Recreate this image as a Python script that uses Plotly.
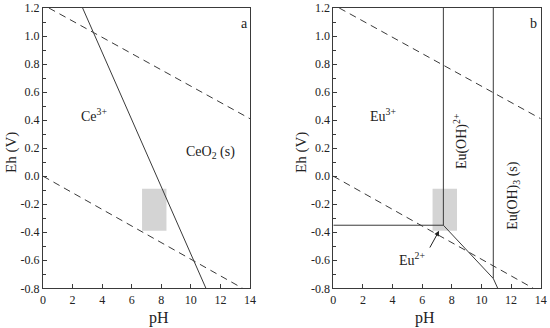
import plotly.graph_objects as go

# ---- data ----
ph_water_up = [0.4, 14.0]
eh_water_up = [1.2, 0.41]
ph_water_lo = [0.0, 13.5]
eh_water_lo = [0.0, -0.8]

ce_ph = [2.68, 11.02]
ce_eh = [1.2, -0.8]

eu_h_ph = [0.0, 7.43]
eu_h_eh = [-0.35, -0.35]
eu_v1_ph = [7.43, 7.43]
eu_v1_eh = [-0.35, 1.2]
eu_d_ph = [7.43, 10.8, 11.1]
eu_d_eh = [-0.35, -0.73, -0.8]
eu_v2_ph = [10.8, 10.8]
eu_v2_eh = [-0.73, 1.2]

rect_ph = [6.7, 8.35]
rect_eh = [-0.39, -0.09]

x_ticks = [0, 2, 4, 6, 8, 10, 12, 14]
y_ticks = [-0.8, -0.6, -0.4, -0.2, 0.0, 0.2, 0.4, 0.6, 0.8, 1.0, 1.2]
y_ticktext = ["%.1f" % v for v in y_ticks]

LINE = "#3a3a3a"
FONT = "Liberation Serif, Times New Roman, Times, serif"
W, H = 550, 328

fig = go.Figure()

for xa, ya in (("x", "y"), ("x2", "y2")):
    fig.add_shape(type="rect", xref=xa, yref=ya, x0=rect_ph[0], x1=rect_ph[1],
                  y0=rect_eh[0], y1=rect_eh[1], fillcolor="#d4d4d4",
                  line=dict(width=0), layer="below")
    fig.add_trace(go.Scatter(x=ph_water_up, y=eh_water_up, mode="lines", xaxis=xa, yaxis=ya,
                             line=dict(color=LINE, width=1, dash="7px,5px"), showlegend=False))
    fig.add_trace(go.Scatter(x=ph_water_lo, y=eh_water_lo, mode="lines", xaxis=xa, yaxis=ya,
                             line=dict(color=LINE, width=1, dash="7px,5px"), showlegend=False))

fig.add_trace(go.Scatter(x=ce_ph, y=ce_eh, mode="lines", xaxis="x", yaxis="y",
                         line=dict(color=LINE, width=1), showlegend=False))
for px, py in ((eu_h_ph, eu_h_eh), (eu_v1_ph, eu_v1_eh), (eu_d_ph, eu_d_eh), (eu_v2_ph, eu_v2_eh)):
    fig.add_trace(go.Scatter(x=px, y=py, mode="lines", xaxis="x2", yaxis="y2",
                             line=dict(color=LINE, width=1), showlegend=False))

axis_common = dict(range=[0, 14], tickvals=x_ticks, ticks="inside", ticklen=4,
                   tickcolor=LINE, showline=True, linecolor=LINE, linewidth=1, mirror=True,
                   showgrid=False, zeroline=False, automargin=False,
                   tickfont=dict(family=FONT, size=12, color="#222"))
yaxis_common = dict(range=[-0.8, 1.2], tickvals=y_ticks, ticktext=y_ticktext, ticks="inside",
                    ticklen=4, tickcolor=LINE, showline=True, linecolor=LINE, linewidth=1,
                    mirror=True, showgrid=False, zeroline=False, automargin=False,
                    minor=dict(dtick=0.1, tick0=0, ticks="inside", ticklen=3, tickcolor=LINE),
                    tickfont=dict(family=FONT, size=12, color="#222"))

fig.update_layout(
    width=W, height=H,
    margin=dict(l=0, r=0, t=0, b=0, autoexpand=False),
    paper_bgcolor="white", plot_bgcolor="white",
    xaxis=dict(domain=[43 / W, 250 / W], anchor="y", **axis_common),
    yaxis=dict(domain=[1 - 288.3 / H, 1 - 8 / H], anchor="x", **yaxis_common),
    xaxis2=dict(domain=[333.3 / W, 540.7 / W], anchor="y2", **axis_common),
    yaxis2=dict(domain=[1 - 288.3 / H, 1 - 8 / H], anchor="x2", **yaxis_common),
    font=dict(family=FONT, size=14, color="#222"),
)

ann = []
def txt(x, y, t, xr, yr, size=14, angle=0):
    ann.append(dict(x=x, y=y, xref=xr, yref=yr, text=t, showarrow=False,
                    font=dict(family=FONT, size=size, color="#222"), textangle=angle))

txt(13.6, 1.09, "a", "x", "y")
txt(13.5, 1.09, "b", "x2", "y2")
txt(3.45, 0.44, "Ce<sup>3+</sup>", "x", "y")
txt(11.35, 0.17, "CeO<sub>2</sub> (s)", "x", "y")
txt(3.38, 0.44, "Eu<sup>3+</sup>", "x2", "y2")
txt(8.55, 0.25, "Eu(OH)<sup>2+</sup>", "x2", "y2", angle=-90)
txt(12.2, -0.14, "Eu(OH)<sub>3</sub> (s)", "x2", "y2", angle=-90)
txt(5.3, -0.59, "Eu<sup>2+</sup>", "x2", "y2")
ann.append(dict(x=7.14, y=-0.39, xref="x2", yref="y2", ax=6.46, ay=-0.52,
                axref="x2", ayref="y2", showarrow=True, arrowhead=2, arrowsize=1,
                arrowwidth=1, arrowcolor="#222", text=""))
# axis titles
for cx in (147, 437):
    ann.append(dict(x=cx / W, y=1 - 318 / H, xref="paper", yref="paper", text="pH",
                    showarrow=False, yanchor="middle",
                    font=dict(family=FONT, size=16, color="#222")))
for cx in (11, 301):
    ann.append(dict(x=cx / W, y=1 - 153 / H, xref="paper", yref="paper", text="Eh (V)",
                    showarrow=False, xanchor="center", yanchor="middle", textangle=-90,
                    font=dict(family=FONT, size=15, color="#222")))
fig.update_layout(annotations=ann)

fig.write_html("out.html", config={"displayModeBar": False},
               post_script="document.body.style.margin='0';")
